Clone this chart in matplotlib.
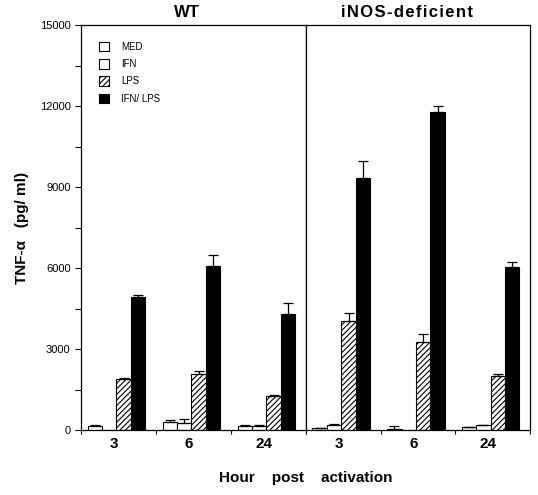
import matplotlib
matplotlib.use("Agg")
import matplotlib.pyplot as plt
import numpy as np
from matplotlib.patches import Patch

plt.rcParams['font.family'] = ['Liberation Sans', 'DejaVu Sans']
plt.rcParams['hatch.linewidth'] = 0.8

hours = ["3", "6", "24"]
treatments = ["MED", "IFN", "LPS", "IFN/ LPS"]
panels = ["WT", "iNOS-deficient"]

# values [treatment][hour]
wt_vals = [[150, 300, 160],
           [0, 250, 160],
           [1900, 2070, 1250],
           [4930, 6090, 4300]]
wt_err = [[20, 70, 30],
          [0, 170, 30],
          [40, 100, 60],
          [60, 400, 390]]
ko_vals = [[60, 20, 100],
           [200, 0, 170],
           [4030, 3250, 2000],
           [9320, 11780, 6050]]
ko_err = [[10, 110, 20],
          [30, 0, 30],
          [320, 300, 70],
          [650, 230, 180]]

fills = ["white", "white", "white", "black"]
hatches = [None, None, "//////", None]

fig = plt.figure(figsize=(5.38, 4.95), dpi=100)
L, R, B, T = 81/538, 530/538, 1-430/495, 1-25/495
mid = 306/538
ax1 = fig.add_axes([L, B, mid-L, T-B])
ax2 = fig.add_axes([mid, B, R-mid, T-B], sharey=ax1)

bw = 0.193
off = 0.087
for ax, vals, errs in [(ax1, wt_vals, wt_err), (ax2, ko_vals, ko_err)]:
    g = np.arange(len(hours))
    for i in range(len(treatments)):
        x = g + off + i*bw
        ax.bar(x, vals[i], width=bw, align='edge', color=fills[i], edgecolor='black',
               linewidth=0.8, hatch=hatches[i], zorder=2)
        e = np.array(errs[i])
        v = np.array(vals[i])
        mask = e > 0
        ax.errorbar((x + bw/2)[mask], v[mask], yerr=[np.zeros(mask.sum()), e[mask]],
                    fmt='none', ecolor='black', elinewidth=0.9, capsize=3.5, capthick=0.9, zorder=3)
    ax.set_xlim(0, 3)
    ax.set_xticks([0, 1, 2, 3])
    ax.set_xticklabels([])
    ax.set_xticks(g + 0.44, minor=True)
    ax.set_xticklabels(hours, minor=True, fontsize=11, fontweight='bold')
    ax.tick_params(axis='x', which='minor', length=0, pad=5)
    ax.tick_params(axis='x', which='major', length=3, direction='out', width=0.8)
    for s in ax.spines.values():
        s.set_linewidth(0.9)

ax1.set_title(panels[0], fontsize=12, fontweight='bold', pad=6, x=0.47)
ax2.set_title("\u200a".join(panels[1]), fontsize=12, fontweight='bold', pad=6, x=0.45)

ax1.set_ylim(0, 15000)
ax1.set_yticks(np.arange(0, 15001, 3000))
ax1.set_yticks(np.arange(0, 15001, 1500), minor=True)
ax1.tick_params(axis='y', which='both', direction='out', length=4, width=0.8, labelsize=8)
ax2.tick_params(axis='y', which='both', left=False, labelleft=False)

ax1.set_ylabel("TNF-α   (pg/ ml)", fontsize=11, fontweight='bold', labelpad=8)

handles = [Patch(facecolor=fills[i], edgecolor='black', hatch=hatches[i], linewidth=0.8) for i in range(4)]
ax1.legend(handles, treatments, loc='upper left', bbox_to_anchor=(0.04, 0.98), frameon=False,
           fontsize=7, handlelength=1.1, handleheight=1.1, labelspacing=0.75, handletextpad=1.2)

fig.text((L+R)/2, 1-478/495, "Hour    post    activation", ha='center', va='center',
         fontsize=11, fontweight='bold')

fig.savefig("out.png", dpi=100)
